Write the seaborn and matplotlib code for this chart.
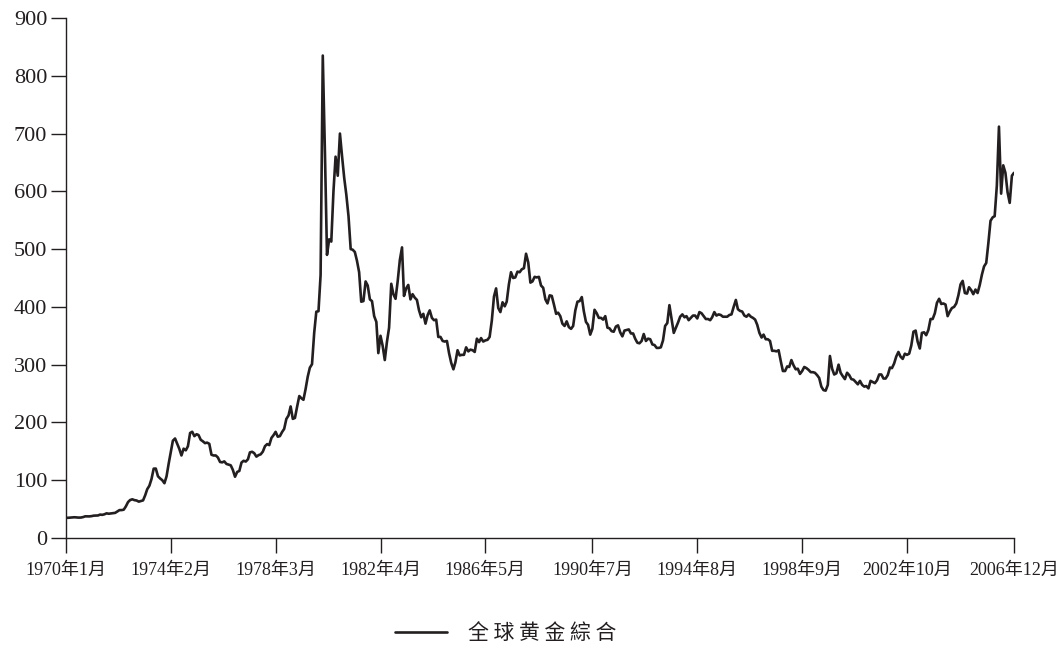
import matplotlib
matplotlib.use("Agg")
import matplotlib.pyplot as plt
import pandas as pd
import seaborn as sns

# monthly gold price readings, Jan 1970 .. Dec 2006 (one row per year)
gold_price = [
    35.0, 35.0, 35.2, 35.6, 35.9, 35.5, 35.3, 35.4, 36.2, 37.5, 37.4, 37.4,      # 1970
    37.9, 38.7, 38.9, 39.0, 40.5, 40.1, 41.0, 42.7, 42.0, 42.5, 42.9, 43.5,      # 1971
    45.8, 48.3, 48.3, 49.0, 54.6, 62.1, 65.7, 67.0, 65.5, 64.9, 62.9, 63.9,      # 1972
    65.1, 74.2, 84.4, 90.5, 102.0, 120.0, 120.2, 106.8, 103.0, 100.1, 94.8, 106.7,  # 1973
    129.2, 150.2, 168.4, 172.2, 163.3, 154.1, 142.9, 154.6, 151.8, 158.8, 181.7, 183.9,  # 1974
    176.3, 179.6, 178.2, 170.0, 167.4, 164.2, 165.1, 163.0, 144.1, 142.8, 142.9, 139.4,  # 1975
    131.6, 130.9, 132.6, 128.2, 127.1, 125.8, 117.9, 106.0, 114.4, 116.0, 130.6, 133.6,  # 1976
    132.3, 136.3, 148.2, 149.2, 146.8, 140.8, 143.4, 144.8, 149.6, 158.9, 162.5, 160.8,  # 1977
    173.2, 178.2, 183.7, 175.3, 176.3, 183.4, 188.8, 206.1, 212.1, 227.7, 206.2, 207.8,  # 1978
    227.3, 245.7, 242.1, 239.2, 257.4, 279.1, 294.7, 300.8, 355.1, 391.7, 392.5, 455.1,  # 1979
    835.0, 665.0, 490.0, 517.0, 513.0, 600.0, 660.0, 627.0, 700.0, 661.0, 623.0, 594.0,  # 1980
    557.0, 500.0, 499.0, 495.0, 480.0, 460.0, 409.0, 410.0, 444.0, 437.0, 413.0, 410.0,  # 1981
    384.0, 374.0, 320.0, 350.0, 333.0, 308.0, 339.0, 364.0, 440.0, 422.0, 414.0, 444.0,  # 1982
    481.0, 503.0, 419.0, 432.0, 438.0, 413.0, 422.0, 416.0, 412.0, 394.0, 382.0, 388.0,  # 1983
    371.0, 386.0, 394.0, 381.0, 377.0, 378.0, 348.0, 348.0, 341.0, 340.0, 341.0, 320.0,  # 1984
    303.0, 292.0, 304.0, 325.0, 316.0, 317.0, 317.0, 330.0, 323.0, 326.0, 325.0, 322.0,  # 1985
    345.0, 339.0, 346.0, 340.0, 342.0, 343.0, 348.0, 376.0, 418.0, 432.0, 398.0, 391.0,  # 1986
    408.0, 401.0, 409.0, 439.0, 460.0, 450.0, 451.0, 461.0, 460.0, 465.0, 467.0, 492.0,  # 1987
    477.0, 442.0, 444.0, 452.0, 451.0, 452.0, 437.0, 433.0, 413.0, 406.0, 420.0, 419.0,  # 1988
    404.0, 388.0, 390.0, 384.0, 371.0, 367.0, 375.0, 365.0, 362.0, 367.0, 394.0, 409.0,  # 1989
    410.0, 417.0, 393.0, 374.0, 369.0, 352.0, 362.0, 395.0, 389.0, 381.0, 381.0, 378.0,  # 1990
    384.0, 364.0, 363.0, 358.0, 357.0, 366.0, 368.0, 356.0, 349.0, 359.0, 360.0, 361.0,  # 1991
    354.0, 354.0, 345.0, 338.0, 337.0, 341.0, 353.0, 341.0, 345.0, 344.0, 335.0, 334.0,  # 1992
    329.0, 329.0, 330.0, 342.0, 367.0, 372.0, 403.0, 379.0, 355.0, 364.0, 373.0, 383.0,  # 1993
    387.0, 382.0, 384.0, 377.0, 381.0, 385.0, 385.0, 380.0, 391.0, 389.0, 384.0, 379.0,  # 1994
    379.0, 377.0, 382.0, 391.0, 385.0, 387.0, 386.0, 383.0, 383.0, 383.0, 386.0, 387.0,  # 1995
    400.0, 412.0, 396.0, 393.0, 392.0, 385.0, 383.0, 387.0, 383.0, 381.0, 378.0, 369.0,  # 1996
    355.0, 347.0, 352.0, 344.0, 344.0, 341.0, 324.0, 324.0, 323.0, 325.0, 306.0, 289.0,  # 1997
    289.0, 297.0, 296.0, 308.0, 299.0, 292.0, 293.0, 284.0, 289.0, 296.0, 294.0, 291.0,  # 1998
    287.0, 287.0, 286.0, 282.0, 277.0, 262.0, 256.0, 255.0, 265.0, 315.0, 293.0, 283.0,  # 1999
    285.0, 300.0, 286.0, 280.0, 275.0, 286.0, 282.0, 275.0, 274.0, 270.0, 266.0, 272.0,  # 2000
    265.0, 262.0, 263.0, 259.0, 272.0, 270.0, 268.0, 273.0, 283.0, 283.0, 276.0, 276.0,  # 2001
    282.0, 295.0, 294.0, 302.0, 314.0, 322.0, 314.0, 310.0, 319.0, 317.0, 319.0, 333.0,  # 2002
    357.0, 359.0, 340.0, 328.0, 355.0, 356.0, 351.0, 360.0, 379.0, 379.0, 389.0, 407.0,  # 2003
    414.0, 405.0, 406.0, 404.0, 384.0, 392.0, 398.0, 400.0, 406.0, 420.0, 439.0, 445.0,  # 2004
    424.0, 423.0, 434.0, 429.0, 422.0, 430.0, 424.0, 438.0, 456.0, 470.0, 476.0, 510.0,  # 2005
    549.0, 555.0, 557.0, 610.0, 712.0, 596.0, 645.0, 632.0, 598.0, 580.0, 627.0, 632.0,  # 2006
]
tick_dates = ["1970-01", "1974-02", "1978-03", "1982-04", "1986-05",
              "1990-07", "1994-08", "1998-09", "2002-10", "2006-12"]
tick_labels = ["1970年1月", "1974年2月", "1978年3月", "1982年4月", "1986年5月",
               "1990年7月", "1994年8月", "1998年9月", "2002年10月", "2006年12月"]
series_name = "全球黄金綜合"

ink = "#231f20"

sns.set_style("white")
plt.rcParams["font.family"] = ["Liberation Serif", "Noto Sans CJK SC", "DejaVu Sans"]

df = pd.DataFrame({
    "date": pd.date_range("1970-01-01", periods=len(gold_price), freq="MS"),
    "price": gold_price,
})

fig = plt.figure(figsize=(10.61, 6.45), dpi=100)
ax = fig.add_axes([66 / 1061, 107 / 645, 948 / 1061, 520 / 645])

sns.lineplot(data=df, x="date", y="price", ax=ax, color=ink, linewidth=1.9,
             label=series_name, legend=False)

ax.set_xlim(pd.Timestamp("1970-01-01"), pd.Timestamp("2006-12-01"))
ax.set_ylim(0, 900)
ax.set_yticks(range(0, 901, 100))
ax.set_xticks(pd.to_datetime(tick_dates))
ax.set_xticklabels(tick_labels)
ax.set_xlabel("")
ax.set_ylabel("")

sns.despine(ax=ax)
for side in ["left", "bottom"]:
    ax.spines[side].set_color(ink)
    ax.spines[side].set_linewidth(1.0)
ax.tick_params(axis="y", direction="out", length=10.5, width=1.0, color=ink,
               labelsize=16, pad=3, labelcolor=ink, left=True)
ax.tick_params(axis="x", direction="out", length=10.5, width=1.0, color=ink,
               labelsize=13, pad=7, labelcolor=ink, bottom=True)

handles, labels = ax.get_legend_handles_labels()
fig.legend(handles, [" ".join(series_name)], loc="center",
           bbox_to_anchor=(506 / 1061, 1 - 633 / 645),
           frameon=False, handlelength=2.5, handletextpad=1.0,
           labelcolor=ink, prop={"family": ["Noto Sans CJK SC"], "size": 15})

fig.savefig("out.png", dpi=100)
